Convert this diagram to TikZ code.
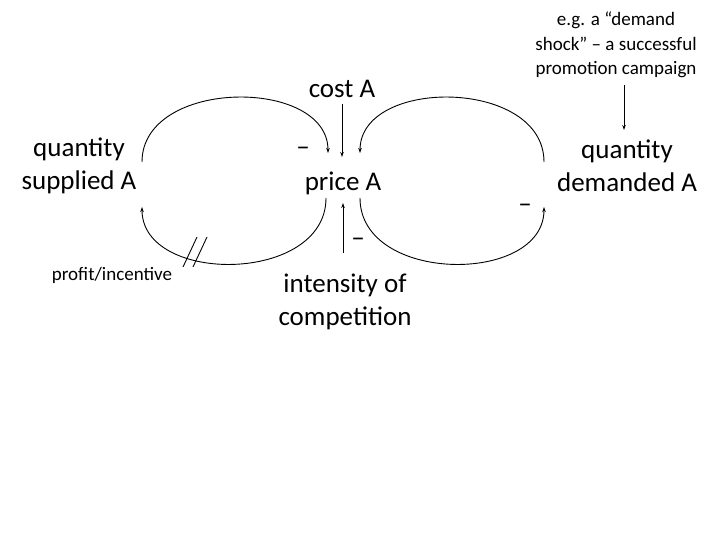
\documentclass[tikz,border=0pt]{standalone}
\usepackage{fontspec}
\setmainfont{Carlito}
\usetikzlibrary{arrows.meta,calc}

\begin{document}
\begin{tikzpicture}[x=1pt, y=-1pt,
  lbl/.style={align=center, inner sep=0pt, font=\fontsize{27}{33}\selectfont},
  small/.style={align=center, inner sep=0pt, font=\fontsize{19}{24.5}\selectfont},
  sgn/.style={inner sep=0pt, font=\fontsize{27}{27}\selectfont},
  arr/.style={-{Stealth[length=5pt, width=3.5pt]}, line width=0.9pt}
]
  \useasboundingbox (0,0) rectangle (720,540);

  % variables
  \node[lbl] (supplied) at (79,166) {quantity\\supplied A};
  \node[lbl] (cost) at (342,89) {cost A};
  \node[lbl] (price) at (343,183) {price A};
  \node[lbl] (demanded) at (627,166) {quantity\\demanded A};
  \node[lbl] (competition) at (345,302) {intensity of\\competition};
  \node[small] (profit) at (112,275) {profit/incentive};
  \node[small] (shock) at (616,45) {e.g. a “demand\\shock” – a successful\\promotion campaign};

  % polarity signs
  \node[sgn] (m1) at (303,151) {–};
  \node[sgn] (m2) at (358,242) {–};
  \node[sgn] (m3) at (525,208) {–};

  % straight links
  \draw[arr] ([shift={(0,15)}]cost.center) -- ([shift={(-1,-26)}]price.center);
  \draw[arr] ([shift={(-2,-49)}]competition.center) -- ([shift={(0,20)}]price.center);
  \draw[arr] ([shift={(8,40)}]shock.center) -- ([shift={(-3,-36)}]demanded.center);

  % loops
  \draw[arr] ([shift={(63,-4)}]supplied.center) .. controls +(0,-84) and +(0,-76) .. ([shift={(-15,-30)}]price.center);
  \draw[arr] ([shift={(-17,15)}]price.center) .. controls +(0,86) and +(0,78) .. ([shift={(63,41)}]supplied.center);
  \draw[arr] ([shift={(-83,-4)}]demanded.center) .. controls +(0,-84) and +(0,-76) .. ([shift={(17,-30)}]price.center);
  \draw[arr] ([shift={(17,15)}]price.center) .. controls +(0,86) and +(0,78) .. ([shift={(-83,41)}]demanded.center);

  % delay mark
  \draw[line width=0.9pt] (183,267) -- (197,237);
  \draw[line width=0.9pt] (193,267) -- (207,237);
\end{tikzpicture}
\end{document}
